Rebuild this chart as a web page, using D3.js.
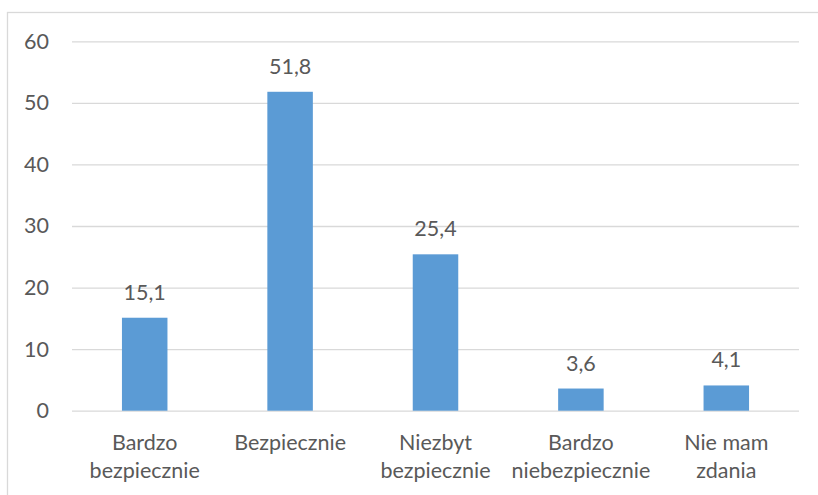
<!DOCTYPE html>
<html>
<head>
<meta charset="utf-8">
<script src="https://cdn.jsdelivr.net/npm/d3@7"></script>
<style>
  body { margin: 0; background: #fff; }
  svg text { font-family: Lato, "Open Sans", sans-serif; fill: #595959; }
</style>
</head>
<body>
<svg width="818" height="495"></svg>
<script>
var categories = [["Bardzo", "bezpiecznie"], ["Bezpiecznie"], ["Niezbyt", "bezpiecznie"], ["Bardzo", "niebezpiecznie"], ["Nie mam", "zdania"]];
var values = [15.1, 51.8, 25.4, 3.6, 4.1];
var labels = ["15,1", "51,8", "25,4", "3,6", "4,1"];
var yTicks = [0, 10, 20, 30, 40, 50, 60];

var svg = d3.select("svg"),
    plotLeft = 72, plotRight = 799,
    plotTop = 41.3, plotBottom = 410.7,
    fontSize = 21.5;

// chart frame, runs off the right and bottom edges
svg.append("rect")
  .attr("x", 7.5).attr("y", 12.5)
  .attr("width", 900).attr("height", 600)
  .attr("fill", "none")
  .attr("stroke", "#d9d9d9")
  .attr("stroke-width", 1.3);

var idx = values.map(function(d, i) { return i; });

var x = d3.scaleBand()
  .domain(idx)
  .range([plotLeft, plotRight])
  .paddingInner(0.687)
  .paddingOuter(0.687 / 2);

var y = d3.scaleLinear()
  .domain([0, 60])
  .range([plotBottom, plotTop]);

var yAxis = d3.axisLeft(y).tickValues(yTicks).tickSize(-(plotRight - plotLeft)).tickPadding(23);

var gy = svg.append("g")
  .attr("transform", "translate(" + plotLeft + ",0)")
  .call(yAxis);
gy.select(".domain").remove();
gy.selectAll(".tick line").attr("stroke", "#d9d9d9").attr("stroke-width", 1.3);
gy.selectAll(".tick text")
  .attr("font-size", fontSize)
  .attr("fill", "#595959")
  .style("font-family", "Lato, 'Open Sans', sans-serif");

svg.selectAll(".bar")
  .data(values)
  .enter().append("rect")
  .attr("class", "bar")
  .attr("x", function(d, i) { return x(i); })
  .attr("y", function(d) { return y(d); })
  .attr("width", x.bandwidth())
  .attr("height", function(d) { return plotBottom - y(d); })
  .attr("fill", "#5b9bd5");

svg.selectAll(".val")
  .data(values)
  .enter().append("text")
  .attr("class", "val")
  .attr("x", function(d, i) { return x(i) + x.bandwidth() / 2; })
  .attr("y", function(d) { return y(d) - 18; })
  .attr("text-anchor", "middle")
  .attr("font-size", fontSize)
  .text(function(d, i) { return labels[i]; });

var cat = svg.selectAll(".cat")
  .data(categories)
  .enter().append("text")
  .attr("class", "cat")
  .attr("text-anchor", "middle")
  .attr("font-size", fontSize)
  .attr("transform", function(d, i) { return "translate(" + (x(i) + x.bandwidth() / 2) + ",450)"; });

cat.selectAll("tspan")
  .data(function(d) { return d; })
  .enter().append("tspan")
  .attr("x", 0)
  .attr("y", function(d, j) { return j * 28.3; })
  .text(function(d) { return d; });
</script>
</body>
</html>
